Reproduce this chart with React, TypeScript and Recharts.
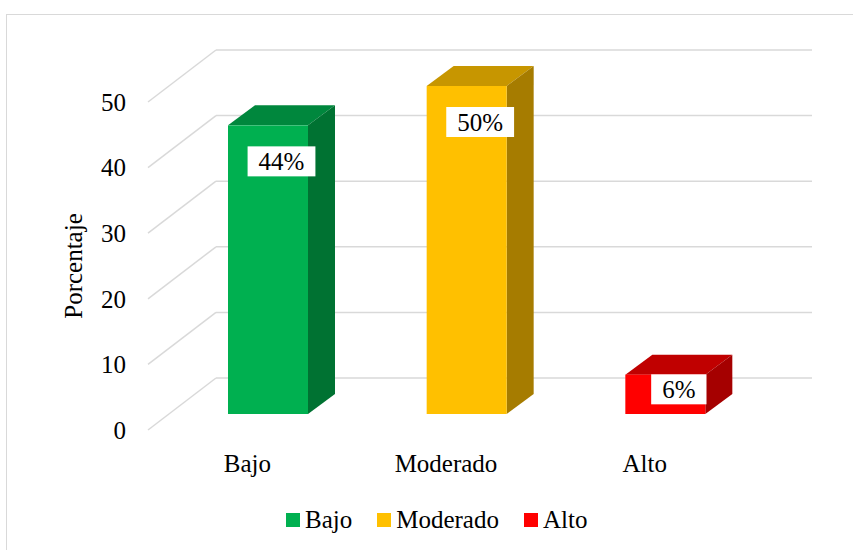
import React from 'react';
import { BarChart, Bar, XAxis, YAxis, CartesianGrid, LabelList, Legend } from 'recharts';

const categories = ['Bajo', 'Moderado', 'Alto'];
const values = [44, 50, 6];
const yTicks = [0, 10, 20, 30, 40, 50];
const frontColors = ['#00B050', '#FFC000', '#FF0000'];
const topColors = ['#00873D', '#C79600', '#C00000'];
const sideColors = ['#007232', '#A67C00', '#A50000'];

const data = categories.map((name, i) => ({ name, value: values[i], idx: i }));

const FONT = "'Liberation Serif', 'Times New Roman', serif";
const FS = 25;
const GRID = '#d9d9d9';
// back wall offset from the front plane
const DEPTH_X = 68;
const DEPTH_Y = -52;
// bar front face offset from the front plane
const OX = 21;
const OY = -16;
// bar depth
const BX = 27;
const BY = -20;

const gridLine = (p: any) => {
  const { x1, y1, x2 } = p;
  return (
    <g>
      <line x1={x1} y1={y1} x2={x1 + DEPTH_X} y2={y1 + DEPTH_Y} stroke={GRID} strokeWidth={1.5} />
      <line x1={x1 + DEPTH_X} y1={y1 + DEPTH_Y} x2={x2 + DEPTH_X} y2={y1 + DEPTH_Y} stroke={GRID} strokeWidth={1.5} />
    </g>
  );
};

const Box3D = (props: any) => {
  const { x, y, width, height, payload } = props;
  const i = payload ? payload.idx : props.index;
  const fx = x + OX;
  const fy = y + OY;
  const w = width;
  const h = height;
  return (
    <g>
      <polygon
        points={`${fx},${fy} ${fx + BX},${fy + BY} ${fx + w + BX},${fy + BY} ${fx + w},${fy}`}
        fill={topColors[i]}
      />
      <polygon
        points={`${fx + w},${fy} ${fx + w + BX},${fy + BY} ${fx + w + BX},${fy + h + BY} ${fx + w},${fy + h}`}
        fill={sideColors[i]}
      />
      <rect x={fx} y={fy} width={w} height={h} fill={frontColors[i]} />
    </g>
  );
};

const renderLabel = (p: any) => {
  const vb = p.viewBox && p.viewBox.width != null ? p.viewBox : p;
  const { x, y, width, height } = vb;
  const value = p.value;
  const fx = x + OX;
  const fy = y + OY;
  const cx = fx + width / 2 + BX / 2;
  const cy = fy + Math.min(36, height / 2 - 5);
  const text = `${value}%`;
  const tw = FS * (String(value).length * 0.5 + 0.833);
  const bw = tw + 22;
  const bh = 30;
  return (
    <g>
      <rect x={cx - bw / 2} y={cy - bh / 2} width={bw} height={bh} fill="#ffffff" />
      <text x={cx} y={cy + 9} textAnchor="middle" fontFamily={FONT} fontSize={FS} fill="#000">
        {text}
      </text>
    </g>
  );
};

const renderLegend = () => (
  <div style={{ display: 'flex', alignItems: 'center', fontFamily: FONT, fontSize: FS, height: 30, lineHeight: '30px', color: '#000', whiteSpace: 'nowrap' }}>
    {categories.map((c, i) => (
      <div key={c} style={{ display: 'flex', alignItems: 'center', marginRight: i < categories.length - 1 ? 25 : 0 }}>
        <div style={{ width: 14, height: 14, background: frontColors[i], marginRight: 5 }} />
        <span>{c}</span>
      </div>
    ))}
  </div>
);

const renderYTitle = (p: any) => {
  const vb = p.viewBox || { x: 0, y: 102, width: 148, height: 328 };
  const cx = vb.x + 82;
  const cy = vb.y + vb.height / 2;
  return (
    <text x={cx} y={cy} textAnchor="middle" fontFamily={FONT} fontSize={FS} fill="#000" transform={`rotate(-90, ${cx}, ${cy})`}>
      Porcentaje
    </text>
  );
};

export default function App() {
  return (
    <div style={{ position: 'absolute', left: 0, top: 0, width: 853, height: 550, overflow: 'hidden', background: '#fff' }}>
      <div style={{ position: 'absolute', left: 6, top: 14, width: 900, height: 600, borderTop: `1.5px solid ${GRID}`, borderLeft: `1.5px solid ${GRID}` }} />
      <div style={{ position: 'absolute', left: 0, top: 0 }}>
        <BarChart width={853} height={550} data={data} margin={{ top: 102, right: 109, bottom: 80, left: 0 }} barSize={80}>
          <CartesianGrid vertical={false} horizontal={gridLine} />
          <XAxis
            dataKey="name"
            axisLine={false}
            tickLine={false}
            tickSize={0}
            tickMargin={24}
            height={40}
            interval={0}
            tick={{ fontSize: FS, fontFamily: FONT, fill: '#000' }}
          />
          <YAxis
            domain={[0, 50]}
            ticks={yTicks}
            width={148}
            axisLine={false}
            tickLine={false}
            tickSize={0}
            tickMargin={22}
            tick={{ fontSize: FS, fontFamily: FONT, fill: '#000' }}
            label={{ content: renderYTitle }}
          />
          <Bar dataKey="value" shape={<Box3D />} isAnimationActive={false}>
            <LabelList dataKey="value" content={renderLabel} />
          </Bar>
          <Legend
            verticalAlign="middle"
            layout="horizontal"
            align="center"
            wrapperStyle={{ top: 505, left: 286, width: 'auto', height: 30 }}
            content={renderLegend}
          />
        </BarChart>
      </div>
    </div>
  );
}
